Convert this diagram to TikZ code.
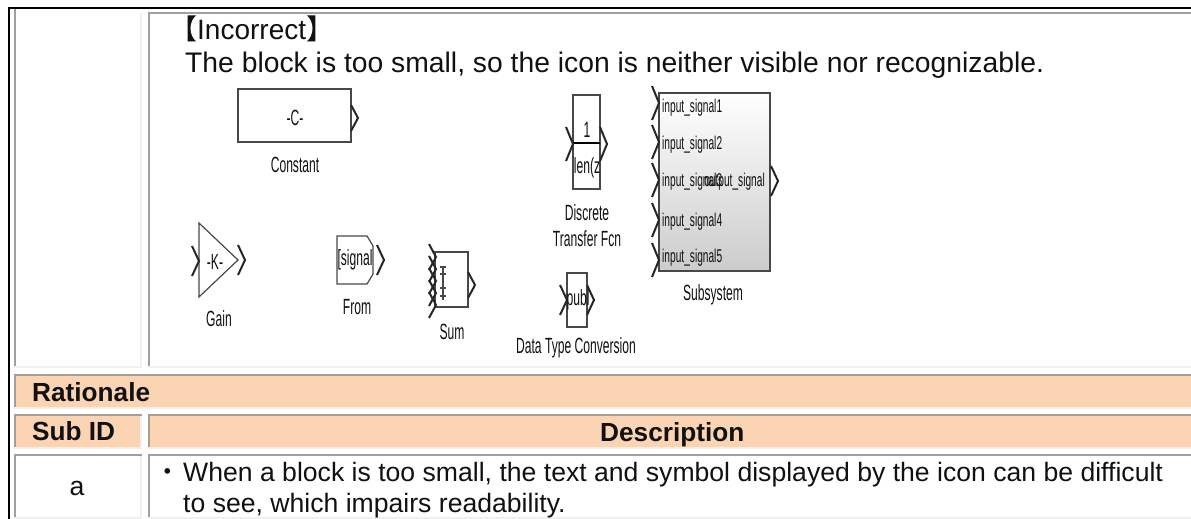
\documentclass[tikz,border=0pt]{standalone}
\usepackage{fontspec}
\usepackage{xcolor}
\usepackage{tikz}
\setmainfont{Liberation Sans}
\newfontfamily\cjkfont{Noto Sans CJK JP}
\newfontfamily\blockfont[FakeStretch=0.55]{Liberation Sans}
\usetikzlibrary{positioning}
\definecolor{headfill}{HTML}{FBD4B4}
\definecolor{cellline}{HTML}{A0A0A0}
\definecolor{cellgap}{HTML}{F0F0F0}
\definecolor{inktext}{HTML}{111111}
\definecolor{blockline}{HTML}{484848}
\tikzset{
  bodytext/.style={font=\fontsize{26.6}{30}\selectfont, text=inktext, inner sep=0pt, anchor=base west},
  headtext/.style={font=\fontsize{26.2}{30}\selectfont\bfseries, text=inktext, inner sep=0pt, anchor=base west},
  blocktext/.style={font=\fontsize{22}{26}\selectfont\blockfont, text=inktext, inner sep=0pt, align=center},
  signaltext/.style={font=\fontsize{18.5}{20}\selectfont\blockfont, text=inktext, inner sep=0pt},
  blockbox/.style={draw=blockline, line width=1.2pt, fill=white},
  portline/.style={black!85, line width=2pt, line join=miter},
}
% port mark: x of the opening, y of the tip, half height
\newcommand{\portmark}[3]{\draw[portline] (#1,#2-#3) -- (#1+7,#2) -- (#1,#2+#3);}
\begin{document}
\begin{tikzpicture}[x=1pt, y=-1pt]
    \useasboundingbox (0,0) rectangle (1191,519);

    % Table cells
    \fill[cellgap] (140,13) rectangle (142,368);
    \fill[cellgap] (14,366) rectangle (142,368);
    \fill[cellgap] (148,366) rectangle (1191,368);
    \fill[cellline] (148,12) rectangle (1191,14);
    \fill[cellline] (148,12) rectangle (150,366);
    \fill[cellline] (14,9) rectangle (16,366);

    \fill[headfill] (14,374) rectangle (1191,407);
    \fill[cellline] (14,374) rectangle (1191,376);
    \fill[cellline] (14,374) rectangle (16,407);
    \fill[cellgap] (14,407) rectangle (1191,409);

    \fill[headfill] (14,414) rectangle (140,447);
    \fill[cellline] (14,414) rectangle (142,416);
    \fill[cellline] (14,414) rectangle (16,447);
    \fill[cellgap] (14,447) rectangle (142,449);
    \fill[cellgap] (140,416) rectangle (142,449);
    \fill[headfill] (148,414) rectangle (1191,447);
    \fill[cellline] (148,414) rectangle (1191,416);
    \fill[cellline] (148,414) rectangle (150,447);
    \fill[cellgap] (148,447) rectangle (1191,449);

    \fill[cellgap] (14,454) rectangle (142,519);
    \fill[white] (16,456) rectangle (140,517);
    \fill[cellline] (14,454) rectangle (142,456);
    \fill[cellline] (14,454) rectangle (16,517);
    \fill[cellgap] (148,454) rectangle (1191,519);
    \fill[white] (150,456) rectangle (1191,517);
    \fill[cellline] (148,454) rectangle (1191,456);
    \fill[cellline] (148,454) rectangle (150,517);

    % Outer rules
    \fill[black] (8,7) rectangle (1191,9);
    \fill[black] (8,7) rectangle (10,519);

    % Table text
    \node[bodytext, font=\fontsize{28}{30}\selectfont] (incorrect) at (169,40) {{\cjkfont 【}Incorrect{\cjkfont 】}};
    \node[bodytext, font=\fontsize{28.3}{30}\selectfont] (reason) at (185,73) {The block is too small, so the icon is neither visible nor recognizable.};
    \node[headtext] (rationale) at (32,401) {Rationale};
    \node[headtext] (subid) at (32,440) {Sub ID};
    \node[headtext] (description) at (600,441) {Description};
    \node[bodytext, anchor=base] (subidval) at (77,495) {a};
    \node[bodytext] (dotone) at (154,481) {{\cjkfont ・}};
    \node[bodytext] (lineone) at (183,481) {When a block is too small, the text and symbol displayed by the icon can be difficult};
    \node[bodytext] (linetwo) at (183,512) {to see, which impairs readability.};

    % Constant
    \draw[blockbox] (238,89) rectangle (351,142);
    \portmark{351}{118}{13}
    \node[blocktext] (constval) at (295,118) {-C-};
    \node[blocktext] (constant) at (295,165) {Constant};

    % Gain
    \draw[blockbox] (199,223) -- (238,260) -- (199,297) -- cycle;
    \portmark{192}{261}{15}
    \portmark{238}{260}{15}
    \node[blocktext] (gainval) at (215,262) {-K-};
    \node[blocktext] (gain) at (219,319) {Gain};

    % From
    \draw[blockbox] (337,236) -- (367,236) -- (373,246) -- (373,274) -- (367,284) -- (337,284) -- cycle;
    \portmark{377}{260}{15}
    \node[blocktext] (fromval) at (355,260) {[signal};
    \node[blocktext] (from) at (357,307) {From};

    % Sum
    \draw[blockbox] (435,252) rectangle (468,307);
    \foreach \y in {257,269,281,293,305} {
      \portmark{429}{\y}{13}
    }
    \portmark{468}{285}{13}
    \draw[blockline, line width=1.4pt] (443,267) -- (443,300);
    \foreach \y in {267,274,288,296} {
      \draw[blockline, line width=1.4pt] (440,\y) -- (446,\y);
    }
    \node[blocktext] (sum) at (452,332) {Sum};

    % Discrete Transfer Fcn
    \draw[blockbox] (573,95) rectangle (600,189);
    \draw[black, line width=1.8pt] (573,143) -- (600,143);
    \portmark{566}{144}{17}
    \portmark{600}{144}{17}
    \node[blocktext] (tfnum) at (587,130) {1};
    \node[blocktext] (tfden) at (587,168) {len(z};
    \node[blocktext] (tf) at (587,226) {Discrete\\Transfer Fcn};

    % Data Type Conversion
    \draw[blockbox] (567,273) rectangle (587,327);
    \portmark{560}{300}{15}
    \portmark{587}{300}{15}
    \node[blocktext] (dtcval) at (578,300) {publ};
    \node[blocktext] (dtc) at (576,348) {Data Type Conversion};

    % Subsystem
    \draw[blockline, line width=1.2pt, top color=white, middle color=white, bottom color=black!20] (659,93) rectangle (770,271);
    \foreach \y/\n/\t in {103/1/108,142/2/145,180/3/182,220/4/222,260/5/258} {
      \portmark{652}{\y}{17}
      \node[signaltext, anchor=west] (insignal\n) at (662,\t) {input\_signal\n};
    }
    \portmark{771}{181}{15}
    \node[signaltext, anchor=east] (outsignal) at (765,182) {output\_signal};
    \node[blocktext] (subsystem) at (713,295) {Subsystem};
\end{tikzpicture}
\end{document}
